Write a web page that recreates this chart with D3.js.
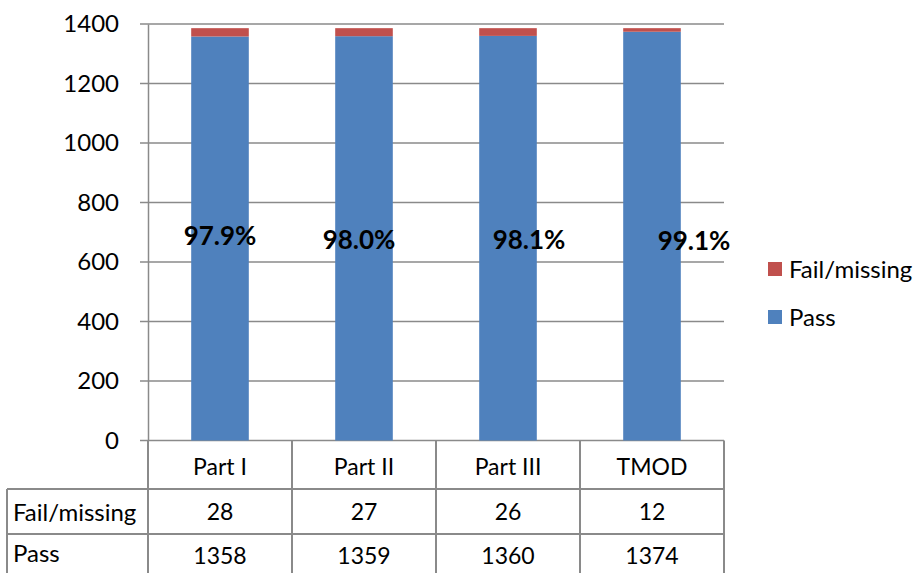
<!DOCTYPE html>
<html>
<head>
<meta charset="utf-8">
<script src="https://cdnjs.cloudflare.com/ajax/libs/d3/7.8.5/d3.min.js"></script>
<style>
  body { margin: 0; background: #fff; }
  svg text { font-family: Lato, "Open Sans", sans-serif; fill: #000; }
</style>
</head>
<body>
<div id="chart"></div>
<script>
// chart data
var categories = ['Part I', 'Part II', 'Part III', 'TMOD'];
var passValues = [1358, 1359, 1360, 1374];
var failValues = [28, 27, 26, 12];
var pctLabels = ['97.9%', '98.0%', '98.1%', '99.1%'];
var yTicks = [0, 200, 400, 600, 800, 1000, 1200, 1400];

var blue = '#4F81BD', red = '#C0504D', grey = '#8a8a8a';

var svg = d3.select('#chart').append('svg')
    .attr('width', 917)
    .attr('height', 573);

var x = d3.scaleBand()
    .domain(categories)
    .range([148, 724])
    .paddingInner(0.6)
    .paddingOuter(0.3);

var y = d3.scaleLinear()
    .domain([0, 1400])
    .range([440.5, 24]);

// gridlines
svg.append('g').selectAll('line')
    .data(yTicks)
    .enter().append('line')
    .attr('x1', 140)
    .attr('x2', 724)
    .attr('y1', function(d) { return y(d); })
    .attr('y2', function(d) { return y(d); })
    .style('stroke', grey)
    .style('stroke-width', 1.5);

// y axis
var yAxis = d3.axisLeft(y).tickValues(yTicks).tickFormat(d3.format('d')).tickSize(0).tickPadding(29);
var ya = svg.append('g').attr('transform', 'translate(148,0)').call(yAxis);
ya.select('.domain').style('stroke', grey).style('stroke-width', 1.5);
ya.selectAll('text').style('font-size', '24px').style('font-family', 'Lato, sans-serif');

// bars
var bars = svg.append('g');
bars.selectAll('rect.pass')
    .data(categories)
    .enter().append('rect')
    .attr('class', 'pass')
    .attr('x', function(d) { return x(d); })
    .attr('width', x.bandwidth())
    .attr('y', function(d, i) { return y(passValues[i]); })
    .attr('height', function(d, i) { return y(0) - y(passValues[i]); })
    .style('fill', blue);

bars.selectAll('rect.fail')
    .data(categories)
    .enter().append('rect')
    .attr('class', 'fail')
    .attr('x', function(d) { return x(d); })
    .attr('width', x.bandwidth())
    .attr('y', function(d, i) { return y(passValues[i] + failValues[i]); })
    .attr('height', function(d, i) { return y(passValues[i]) - y(passValues[i] + failValues[i]); })
    .style('fill', red);

// percentage labels (placed as in the original, slightly off-centre)
var labelShift = [0, -5, 21, 42];
var labelLevel = [690, 678, 678, 675];
svg.append('g').selectAll('text')
    .data(pctLabels)
    .enter().append('text')
    .attr('x', function(d, i) { return x(categories[i]) + x.bandwidth() / 2 + labelShift[i]; })
    .attr('y', function(d, i) { return y(labelLevel[i]); })
    .attr('text-anchor', 'middle')
    .attr('dominant-baseline', 'central')
    .style('font-size', '26px')
    .style('font-weight', 'bold')
    .text(function(d) { return d; });

// data table
var rowTop = [440.5, 489, 534, 580];
var table = svg.append('g');
var lineStyle = function(sel) { sel.style('stroke', grey).style('stroke-width', 2).style('fill', 'none'); };

table.append('line').attr('x1', 7).attr('x2', 724).attr('y1', rowTop[1]).attr('y2', rowTop[1]).call(lineStyle);
table.append('line').attr('x1', 7).attr('x2', 724).attr('y1', rowTop[2]).attr('y2', rowTop[2]).call(lineStyle);
table.append('line').attr('x1', 7).attr('x2', 7).attr('y1', rowTop[1]).attr('y2', 573).call(lineStyle);

var edges = categories.map(function(d) { return x(d) - (x.step() - x.bandwidth()) / 2; });
edges.push(724);
table.selectAll('line.v')
    .data(edges)
    .enter().append('line')
    .attr('class', 'v')
    .attr('x1', function(d) { return d; })
    .attr('x2', function(d) { return d; })
    .attr('y1', rowTop[0])
    .attr('y2', 573)
    .call(lineStyle);

var cx = function(d) { return x(d) + x.bandwidth() / 2; };
table.selectAll('text.cat')
    .data(categories)
    .enter().append('text')
    .attr('x', cx)
    .attr('y', (rowTop[0] + rowTop[1]) / 2 + 1)
    .attr('text-anchor', 'middle')
    .attr('dominant-baseline', 'central')
    .style('font-size', '23px')
    .text(function(d) { return d; });

var rows = [['Fail/missing', failValues], ['Pass', passValues]];
rows.forEach(function(r, ri) {
  var cy = ri === 0 ? 511 : 555;
  table.append('text')
      .attr('x', 13)
      .attr('y', ri === 1 ? cy - 3 : cy)
      .attr('dominant-baseline', 'central')
      .style('font-size', '24px')
      .text(r[0]);
  table.selectAll('text.r' + ri)
      .data(categories)
      .enter().append('text')
      .attr('class', 'r' + ri)
      .attr('x', cx)
      .attr('y', cy)
      .attr('text-anchor', 'middle')
      .attr('dominant-baseline', 'central')
      .style('font-size', '23px')
      .text(function(d, i) { return r[1][i]; });
});

// legend
var legend = [['Fail/missing', red], ['Pass', blue]];
var lg = svg.append('g').selectAll('g')
    .data(legend)
    .enter().append('g')
    .attr('transform', function(d, i) { return 'translate(768,' + (262 + i * 48) + ')'; });
lg.append('rect').attr('width', 14).attr('height', 14).style('fill', function(d) { return d[1]; });
lg.append('text')
    .attr('x', 21)
    .attr('y', 6)
    .attr('dominant-baseline', 'central')
    .style('font-size', '24px')
    .text(function(d) { return d[0]; });
</script>
</body>
</html>
